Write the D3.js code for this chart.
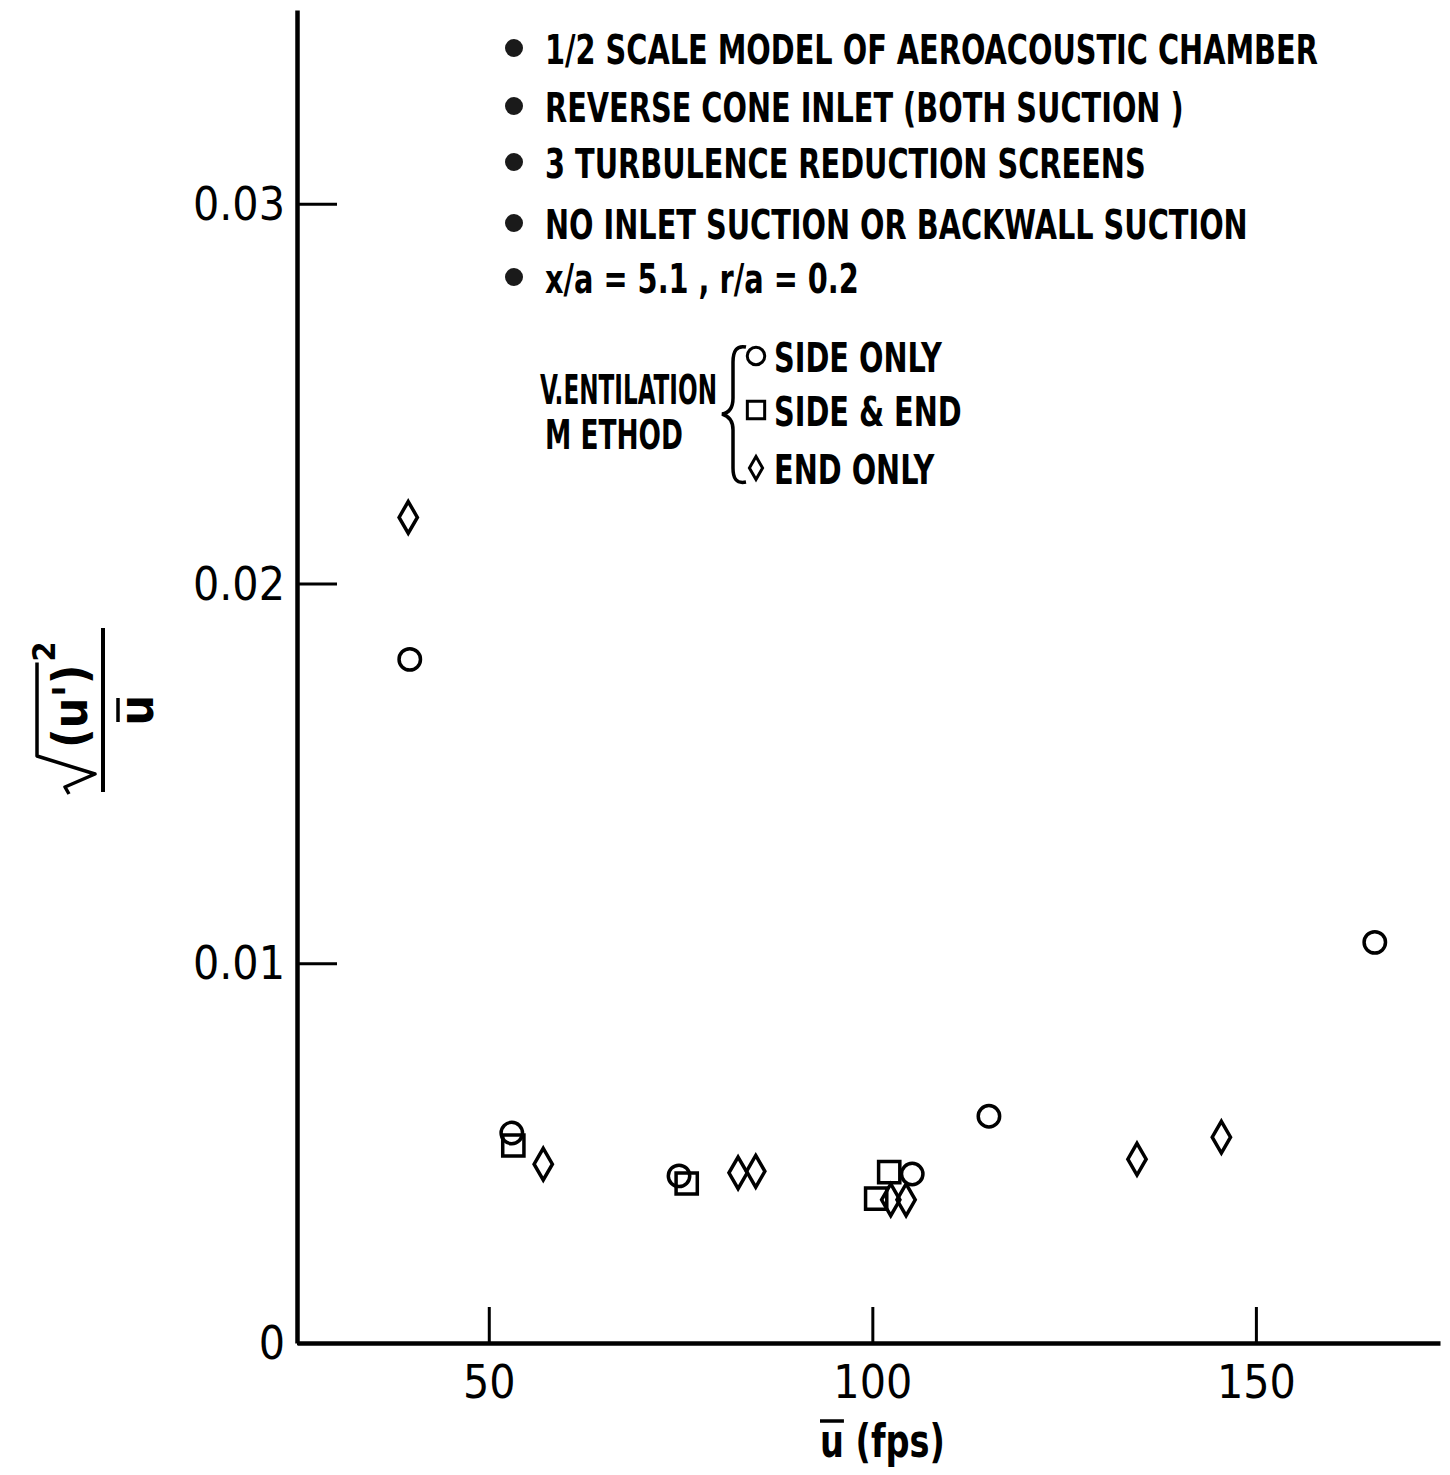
<!DOCTYPE html>
<html>
<head>
<meta charset="utf-8">
<script src="https://cdn.jsdelivr.net/npm/d3@7"></script>
<style>
  body { margin: 0; background: #fff; }
</style>
</head>
<body>
<div id="chart"></div>
<script>
// turbulence intensity vs mean velocity
const sideOnlyU = [39.7, 53.0, 74.8, 105.2, 115.2, 165.5]
const sideOnlyTu = [0.0180, 0.00553, 0.00440, 0.00445, 0.00597, 0.01055]
const sideEndU = [53.2, 75.8, 102.2, 100.5]
const sideEndTu = [0.00520, 0.00420, 0.00450, 0.00380]
const endOnlyU = [39.5, 57.1, 82.5, 84.8, 102.4, 104.4, 134.5, 145.5]
const endOnlyTu = [0.02174, 0.00471, 0.00448, 0.00452, 0.00377, 0.00377, 0.00484, 0.00542]

const xTicks = [50, 100, 150]
const yTicks = [0, 0.01, 0.02, 0.03]

const notes = [
    '1/2 SCALE MODEL OF AEROACOUSTIC  CHAMBER',
    'REVERSE CONE INLET (BOTH SUCTION )',
    '3 TURBULENCE REDUCTION SCREENS',
    'NO INLET SUCTION OR BACKWALL SUCTION',
    'x/a = 5.1 , r/a = 0.2'
]
const ventTitle = ['V.ENTILATION', 'M ETHOD']
const ventLabels = ['SIDE ONLY', 'SIDE & END', 'END ONLY']

const W = 1450, H = 1475
const FONT = '"DejaVu Sans Condensed", "DejaVu Sans", sans-serif'

const svg = d3.select('#chart').append('svg')
    .attr('width', W)
    .attr('height', H)
    .style('background', '#fff')

const x = d3.scaleLinear().domain([25, 174]).range([297, 1440])
const y = d3.scaleLinear().domain([0, 0.0351]).range([1343, 10])

// axes: ticks point into the plot, labels outside
const yAxis = svg.append('g')
    .attr('transform', 'translate(' + x(25) + ',0)')
    .call(d3.axisLeft(y).tickValues(yTicks).tickSizeInner(-40).tickSizeOuter(0).tickPadding(12)
        .tickFormat(d => d === 0 ? '0' : d.toFixed(2)))
const xAxis = svg.append('g')
    .attr('transform', 'translate(0,' + y(0) + ')')
    .call(d3.axisBottom(x).tickValues(xTicks).tickSizeInner(-36).tickSizeOuter(0).tickPadding(22))

;[yAxis, xAxis].forEach(function(ax) {
    ax.attr('font-family', FONT).attr('font-size', 46)
    ax.select('.domain').attr('stroke', '#000').attr('stroke-width', 4.5)
    ax.selectAll('.tick line').attr('stroke', '#000').attr('stroke-width', 3)
    ax.selectAll('.tick text').attr('fill', '#000')
})
yAxis.selectAll('.tick text').attr('dy', '0.34em')

// markers
const circleSym = d3.symbol().type(d3.symbolCircle)
const squareSym = d3.symbol().type(d3.symbolSquare)
const diamondSym = d3.symbol().type(d3.symbolDiamond)

const series = [
    { u: sideOnlyU, tu: sideOnlyTu, path: circleSym.size(360)() },
    { u: sideEndU, tu: sideEndTu, path: squareSym.size(450)() },
    { u: endOnlyU, tu: endOnlyTu, path: diamondSym.size(290)() }
]
const marks = svg.append('g')
    .attr('fill', 'none')
    .attr('stroke', '#000')
    .attr('stroke-width', 3.5)
series.forEach(function(s) {
    marks.selectAll(null)
        .data(s.u.map((u, i) => [u, s.tu[i]]))
        .enter().append('path')
        .attr('d', s.path)
        .attr('transform', d => 'translate(' + x(d[0]) + ',' + y(d[1]) + ')')
})

// condensed lettering: squeeze text horizontally, either by the common
// factor or to fit a given width
const probe = svg.append('text')
    .attr('font-family', FONT).attr('font-weight', 'bold').attr('font-size', 41)
    .text(notes[0])
const k = 773 / probe.node().getComputedTextLength()
probe.remove()

function squeezed(str, tx, ty, anchor, size, width) {
    const t = svg.append('text')
        .attr('font-family', FONT)
        .attr('font-weight', 'bold')
        .attr('font-size', size || 41)
        .attr('text-anchor', anchor || 'start')
        .attr('fill', '#000')
        .text(str)
    const sx = width ? width / t.node().getComputedTextLength() : k
    t.attr('transform', 'translate(' + tx + ',' + ty + ') scale(' + sx + ',1)')
    return t
}

const noteBase = [64, 122, 178, 239, 293]
notes.forEach(function(n, i) {
    svg.append('circle')
        .attr('cx', 514).attr('cy', noteBase[i] - 16).attr('r', 9)
        .attr('fill', '#1a1a1a')
    squeezed(n, 545, noteBase[i])
})

// ventilation method key
squeezed(ventTitle[0], 717, 404, 'end', 41, 177)
squeezed(ventTitle[1], 614, 449, 'middle', 41, 138)

svg.append('path')
    .attr('d', 'M746,347 C736,345 733,352 733,362 L733,398 C733,408 729,413 722,414 C729,416 733,421 733,430 L733,468 C733,478 736,484 746,482')
    .attr('fill', 'none').attr('stroke', '#000').attr('stroke-width', 3.5)

const keySyms = [
    circleSym.size(240)(),
    squareSym.size(300)(),
    diamondSym.size(150)()
]
const keyBase = [372, 426, 484]
ventLabels.forEach(function(v, i) {
    svg.append('path')
        .attr('d', keySyms[i])
        .attr('transform', 'translate(756,' + (keyBase[i] - 16) + ')')
        .attr('fill', 'none').attr('stroke', '#000').attr('stroke-width', 3)
    squeezed(v, 774, keyBase[i])
})

// x axis title: u-bar (fps), squeezed to the lettering width
const xt = svg.append('text')
    .attr('font-family', FONT).attr('font-size', 46).attr('font-weight', 'bold')
    .attr('fill', '#000')
xt.append('tspan').text('u')
xt.append('tspan').text(' (fps)')
const sxt = 125 / xt.node().getComputedTextLength()
const uw = xt.select('tspan').node().getComputedTextLength() * sxt
xt.attr('transform', 'translate(820,1457) scale(' + sxt + ',1)')
svg.append('line')
    .attr('x1', 820).attr('x2', 820 + uw)
    .attr('y1', 1421).attr('y2', 1421)
    .attr('stroke', '#000').attr('stroke-width', 3.5)

// y axis title: sqrt of mean (u')^2 over u-bar, written sideways
const yl = svg.append('g')
    .attr('transform', 'translate(103,710) rotate(-90)')
    .attr('font-family', FONT).attr('font-size', 48).attr('font-weight', 'bold')
yl.append('line')
    .attr('x1', -82).attr('x2', 82).attr('y1', 0).attr('y2', 0)
    .attr('stroke', '#000').attr('stroke-width', 4)
yl.append('text')
    .attr('x', 0).attr('y', 50).attr('text-anchor', 'middle')
    .text('u')
yl.append('line')
    .attr('x1', -12).attr('x2', 12).attr('y1', 15).attr('y2', 15)
    .attr('stroke', '#000').attr('stroke-width', 3.5)

const num = yl.append('text')
    .attr('x', -38).attr('y', -16)
num.append('tspan').text('(u')
num.append('tspan').text('\'')
num.append('tspan').text(')')
const nw = num.node().getComputedTextLength()
yl.append('text')
    .attr('x', -38 + nw + 3).attr('y', -48)
    .attr('font-size', 32)
    .text('2')
yl.append('path')
    .attr('d', 'M-84,-34 L-77,-38 L-64,-8 L-46,-66 L' + (-38 + nw + 2) + ',-66')
    .attr('fill', 'none').attr('stroke', '#000').attr('stroke-width', 3.5)
    .attr('stroke-linejoin', 'round')
</script>
</body>
</html>
